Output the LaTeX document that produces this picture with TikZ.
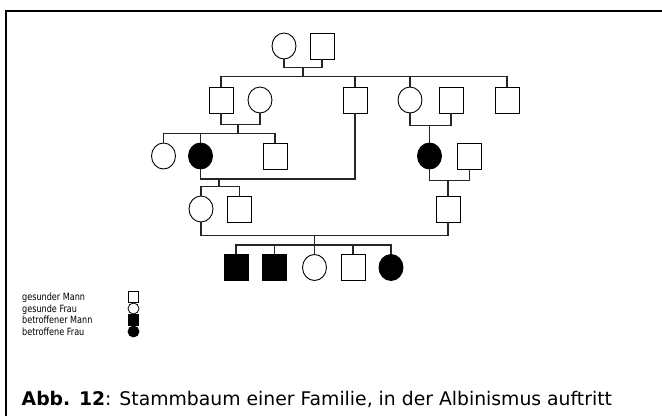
\documentclass[tikz,border=0pt]{standalone}
\usepackage{graphicx}
\usepackage{fontspec}
\setmainfont{DejaVu Sans}
\usetikzlibrary{positioning,shapes.geometric}

\begin{document}
\begin{tikzpicture}[
    x=1pt, y=-1pt,
    male/.style={rectangle, draw=black, line width=0.9pt, minimum width=24pt, minimum height=26pt, inner sep=0pt},
    female/.style={ellipse, draw=black, line width=0.9pt, minimum width=24pt, minimum height=26pt, inner sep=0pt},
    sick/.style={fill=black},
    kin/.style={draw=black!85, line width=1.3pt},
    keymale/.style={rectangle, draw=black, line width=0.8pt, minimum width=10.5pt, minimum height=10.5pt, inner sep=0pt},
    keyfemale/.style={circle, draw=black, line width=0.8pt, minimum size=11pt, inner sep=0pt},
    keytext/.style={anchor=base west, inner sep=0pt, font=\fontsize{10}{12}\selectfont}
    ]
        \useasboundingbox (0,0) rectangle (662,416);
        \draw[line width=2pt] (6,416) -- (6,11) -- (662,11);

        %Nodes
        \node[female] (c1) at (284,46) {};
        \node[male]   (s1) at (322,46) {};

        \node[male]   (A) at (221,100) {};
        \node[female] (B) at (260,100) {};
        \node[male]   (C) at (355,100) {};
        \node[female] (D) at (410,100) {};
        \node[male]   (E) at (451,100) {};
        \node[male]   (F) at (507,100) {};

        \node[female]      (G) at (163.5,156) {};
        \node[female,sick] (H) at (200.5,156) {};
        \node[male]        (I) at (275,156) {};
        \node[female,sick] (J) at (429.5,156) {};
        \node[male]        (K) at (469.5,156) {};

        \node[female] (L) at (201,209) {};
        \node[male]   (M) at (239.5,209) {};
        \node[male]   (N) at (448,209) {};

        \node[male,sick]   (O) at (236,267.5) {};
        \node[male,sick]   (P) at (274.5,267.5) {};
        \node[female]      (Q) at (314.5,267.5) {};
        \node[male]        (R) at (353,267.5) {};
        \node[female,sick] (S) at (391,267.5) {};

        \coordinate (cs) at (303,67);
        \coordinate (ab) at (238,124);
        \coordinate (de) at (429.5,125);
        \coordinate (hc) at (219,179);
        \coordinate (hcm) at (238,179);
        \coordinate (jk) at (448,180);
        \coordinate (ln) at (314.5,235);

        %Lines
        \draw[kin] (c1.south) -- ++(0,8) -| (s1.south);
        \draw[kin] (cs) -- ++(0,10);
        \draw[kin] (A.north) -- ++(0,-10) -| (F.north);
        \draw[kin] (C.north) -- ++(0,-10);
        \draw[kin] (D.north) -- ++(0,-10);

        \draw[kin] (A.south) -- ++(0,11) -| (B.south);
        \draw[kin] (ab) -- ++(0,10);
        \draw[kin] (G.north) -- ++(0,-9) -| (I.north);
        \draw[kin] (H.north) -- ++(0,-9);

        \draw[kin] (D.south) -- ++(0,12) -| (E.south);
        \draw[kin] (de) -- (J.north);

        \draw[kin] (H.south) |- (hcm);
        \draw[kin, line width=2pt] (C.south) |- (hcm);
        \draw[kin] (hc) -- ++(0,8);
        \draw[kin] (L.north) -- ++(0,-9) -| (M.north);

        \draw[kin] (J.south) -- ++(0,11) -| (K.south);
        \draw[kin] (jk) -- (N.north);

        \draw[kin] (L.south) -- ++(0,13) -| (N.south);
        \draw[kin] (ln) -- (Q.north);
        \draw[kin] (O.north) -- ++(0,-9) -| (S.north);
        \draw[kin] (P.north) -- ++(0,-9);
        \draw[kin] (R.north) -- ++(0,-9);

        %Key
        \node[keytext] (t1) at (22,300.5) {\scalebox{0.81}[1]{gesunder Mann}};
        \node[keytext] (t2) at (22,312) {\scalebox{0.81}[1]{gesunde Frau}};
        \node[keytext] (t3) at (22,323.5) {\scalebox{0.81}[1]{betroffener Mann}};
        \node[keytext] (t4) at (22,335) {\scalebox{0.81}[1]{betroffene Frau}};
        \node[keymale]        (k1) at (133.5,297) {};
        \node[keyfemale]      (k2) at (133.5,308.5) {};
        \node[keymale,sick]   (k3) at (133.5,320) {};
        \node[keyfemale,sick] (k4) at (133.5,331.5) {};

        %Caption
        \node[anchor=base west, inner sep=0pt, font=\fontsize{18.8}{22}\selectfont] (cap)
            at (21.5,405) {\textbf{Abb. 12}: Stammbaum einer Familie, in der Albinismus auftritt};
\end{tikzpicture}
\end{document}
